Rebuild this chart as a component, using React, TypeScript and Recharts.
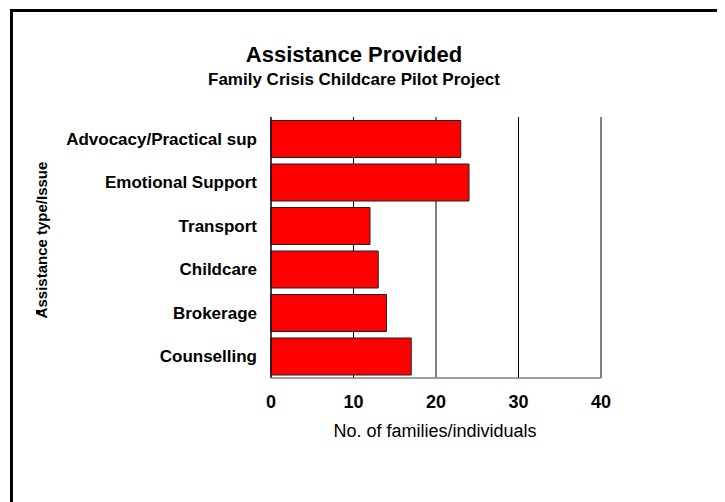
import React from "react"
import {
  Bar,
  BarChart,
  CartesianGrid,
  ReferenceLine,
  XAxis,
  YAxis,
} from "recharts"

// chart data
const categories = [
  "Advocacy/Practical sup",
  "Emotional Support",
  "Transport",
  "Childcare",
  "Brokerage",
  "Counselling",
]
const families = [23, 24, 12, 13, 14, 17]
const xTicks = [0, 10, 20, 30, 40]

const FONT = "'Liberation Sans', Arial, sans-serif"
const W = 717
const H = 494

export default function App() {
  const data = categories.map((name, i) => ({ name, value: families[i] }))

  return (
    <div style={{ position: "relative", width: W, height: H, fontFamily: FONT }}>
      {/* frame: only top and left edges show */}
      <div
        style={{
          position: "absolute",
          left: 2,
          top: 1,
          width: W,
          height: H,
          borderTop: "3px solid #000",
          borderLeft: "3px solid #000",
        }}
      />
      <div style={{ position: "absolute", left: 0, top: 0 }}>
        <BarChart
          width={W}
          height={H}
          data={data}
          layout="vertical"
          margin={{ top: 109, right: 124, bottom: 84, left: 13 }}
          barCategoryGap={3.5}
        >
          <CartesianGrid horizontal={false} stroke="#000" strokeOpacity={1} />
          <XAxis
            type="number"
            domain={[0, 40]}
            ticks={xTicks}
            height={40}
            axisLine={{ stroke: "#808080", strokeWidth: 1.5 }}
            tickLine={false}
            tickSize={0}
            tickMargin={17}
            tick={{ fill: "#000", fontSize: 18, fontWeight: "bold", fontFamily: FONT }}
          />
          <YAxis
            type="category"
            dataKey="name"
            width={250}
            axisLine={{ stroke: "#000" }}
            tickLine={false}
            tickSize={0}
            tickMargin={14}
            interval={0}
            tick={{ fill: "#000", fontSize: 17, fontWeight: "bold", fontFamily: FONT }}
          />
          <ReferenceLine x={40} stroke="#808080" strokeWidth={2} />
          <Bar
            dataKey="value"
            fill="#ff0000"
            stroke="#222"
            strokeWidth={1}
            isAnimationActive={false}
          />
        </BarChart>
      </div>
      <svg
        width={W}
        height={H}
        style={{ position: "absolute", left: 0, top: 0, pointerEvents: "none" }}
      >
        <text x={346} y={54} textAnchor="middle" fontSize={22} fontWeight="bold" fontFamily={FONT}>
          Assistance Provided
        </text>
        <text x={346} y={77} textAnchor="middle" fontSize={17} fontWeight="bold" fontFamily={FONT}>
          Family Crisis Childcare Pilot Project
        </text>
        <text x={427} y={429} textAnchor="middle" fontSize={18} fontFamily={FONT}>
          No. of families/individuals
        </text>
        <text
          x={39}
          y={232}
          textAnchor="middle"
          fontSize={15}
          fontWeight="bold"
          fontFamily={FONT}
          transform="rotate(-90, 39, 232)"
        >
          Assistance type/Issue
        </text>
        <rect x={28} y={302} width={4} height={4} fill="#000" />
      </svg>
    </div>
  )
}
